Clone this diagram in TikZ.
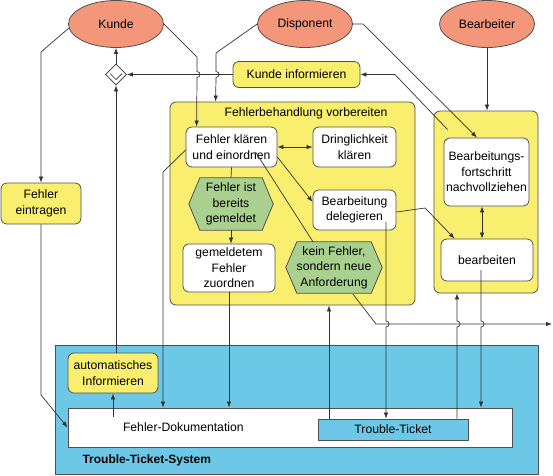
\documentclass[tikz,border=0pt]{standalone}
\usepackage{fontspec}
\setmainfont{Liberation Sans}
\usetikzlibrary{shapes.geometric,arrows.meta,calc}
\pgfdeclarelayer{bg}\pgfdeclarelayer{mid}\pgfsetlayers{bg,mid,main}
\definecolor{salmon}{HTML}{F4967A}
\definecolor{yel}{HTML}{FAEE6E}
\definecolor{grn}{HTML}{A9D08E}
\definecolor{blu}{HTML}{6CC8E6}
\definecolor{edgec}{HTML}{505050}
\definecolor{linec}{HTML}{333333}
\begin{document}
\begin{tikzpicture}[x=1pt,y=-1pt,font=\fontsize{12.2}{15.5}\selectfont,
 actor/.style={ellipse,draw=edgec,fill=salmon,line width=0.8pt,minimum width=95,minimum height=47,inner sep=0},
 ybox/.style={rectangle,rounded corners=6pt,draw=edgec,fill=yel,line width=0.8pt,align=center,inner sep=0},
 wbox/.style={rectangle,rounded corners=6pt,draw=edgec,fill=white,line width=0.8pt,align=center,inner sep=0},
 cont/.style={rectangle,rounded corners=6pt,draw=edgec,fill=yel,line width=0.8pt,inner sep=0},
 hexb/.style={inner sep=0,align=center},
 hexfill/.style={draw=edgec,fill=grn,line width=0.8pt},
 conn/.style={draw=linec,line width=0.7pt},
 arr/.style={conn,-{Latex[length=6pt,width=4.5pt]}},
 darr/.style={conn,{Latex[length=6pt,width=4.5pt]}-{Latex[length=6pt,width=4.5pt]}},
]
\useasboundingbox (0,0) rectangle (553,475);

% containers
\begin{pgfonlayer}{bg}
\node[cont,minimum width=245,minimum height=203] (prep) at (292.5,203.5) {};
\node[cont,minimum width=104,minimum height=182] (rc) at (486,202) {};
\node[rectangle,draw=edgec,fill=blu,line width=0.8pt,minimum width=483,minimum height=129,inner sep=0] (tts) at (296.5,409.5) {};
\end{pgfonlayer}
\node (prept) at (306,113) {Fehlerbehandlung vorbereiten};
\node[anchor=west,font=\fontsize{12}{15}\selectfont\bfseries] (ttsl) at (79,460) {Trouble-Ticket-System};

% actors
\node[actor] (kunde) at (116,24) {Kunde};
\node[actor] (disp) at (305,24) {Disponent};
\node[actor] (bearb) at (487,24) {Bearbeiter};

% decision diamond
\node[diamond,draw=linec,fill=white,line width=0.8pt,minimum size=21,inner sep=0] (dia) at (116,74.5) {};
\draw[linec,line width=0.7pt] ($(dia.center)+(-6,-1)$) -- ($(dia.center)+(0,5)$) -- ($(dia.center)+(6,-1)$);

% boxes
\node[ybox,minimum width=127,minimum height=26] (kinfo) at (296.5,74.5) {Kunde informieren};
\node[ybox,minimum width=80,minimum height=41] (feintr) at (41,203.5) {Fehler\\eintragen};
\node[wbox,minimum width=91,minimum height=40] (fk) at (231.5,147) {Fehler klären\\und einordnen};
\node[wbox,minimum width=83,minimum height=40] (dr) at (354.5,147) {Dringlichkeit\\klären};
\node[wbox,minimum width=83,minimum height=40] (bd) at (354.5,210) {Bearbeitung\\delegieren};
\node[hexb,minimum width=84,minimum height=52] (hx1) at (231,204) {Fehler ist\\bereits\\gemeldet};
\node[wbox,minimum width=92,minimum height=48] (gz) at (229,268) {gemeldetem\\Fehler\\zuordnen};
\node[hexb,minimum width=96,minimum height=51] (hx2) at (334,267.5) {kein Fehler,\\sondern neue\\Anforderung};
\node[wbox,minimum width=85,minimum height=68] (bf) at (486.5,172) {Bearbeitungs-\\fortschritt\\nachvollziehen};
\node[wbox,minimum width=92,minimum height=42] (be) at (487,260) {bearbeiten};
\node[rectangle,draw=edgec,fill=white,line width=0.8pt,minimum width=444,minimum height=39,inner xsep=55pt,inner ysep=0,text width=334pt,align=left] (fd) at (290,427.5) {Fehler-Dokumentation};
\node[rectangle,draw=edgec,fill=blu,line width=0.8pt,minimum width=150,minimum height=21,inner sep=0] (tt) at (393,429.5) {Trouble-Ticket};
\node[ybox,minimum width=90,minimum height=40] (ai) at (113,373) {automatisches\\Informieren};

\begin{pgfonlayer}{mid}
\foreach \h in {hx1,hx2}{
\draw[hexfill] (\h.west) -- ([xshift=11]\h.north west) -- ([xshift=-11]\h.north east) -- (\h.east) -- ([xshift=-11]\h.south east) -- ([xshift=11]\h.south west) -- cycle;
}
\end{pgfonlayer}

% connectors
\draw[arr] (kunde.185) -- (41,52) -- (feintr.north);
\draw[arr] (feintr.south) -- (41,395) -- (fd.west);
\draw[arr] (kunde.east) -- (197,57) -- (197,71.5) .. controls (201,71.5) and (201,77.5) .. (197,77.5) -- ([xshift=11]fk.north west);
\draw[arr] (disp.west) -- (216,53) -- (216,71.5) .. controls (220,71.5) and (220,77.5) .. (216,77.5) -- ([xshift=46]prep.north west);
\draw[arr] (kinfo.west) -- (dia.east);
\draw[arr] (dia.north) -- (kunde.south);
\draw[arr] (dia.south |- ai.north) -- (dia.south);
\coordinate (s8) at ($(ai.south |- fd.north)+(0,9)$);
\draw[arr] (s8) -- (ai.south);
\coordinate (b9) at (163,172);
\draw[arr] ([yshift=-3]fk.west) -- (b9) -- (b9 |- fd.north);
\draw[darr] (fk.east) -- (dr.west);
\draw[arr] ([yshift=-10]fk.east) -- ([yshift=8]bd.west);
\draw[conn] (fk.south) -- (hx1.north);
\draw[arr] (hx1.south) -- (hx1.south |- gz.north);
\draw[conn] ($(fk.center)+(24,5)$) -- ([xshift=-21]hx2.north);
\draw[arr] (gz.south) -- (gz.south |- fd.north);
\coordinate (s15) at ($(bd.center)+(31.5,12)$);
\draw[arr] (s15) -- (386,321) .. controls (390,321) and (390,327) .. (386,327) -- (s15 |- tt.north);
\draw[arr] ([yshift=-2]bd.east) -- (425,208) -- ([xshift=14]be.north west);
\coordinate (s17) at ($(bf.south)+(-4.5,0)$);
\draw[darr] (s17) -- (s17 |- be.north);
\draw[arr] (bearb.south) -- (bearb.south |- rc.north);
\draw[arr] (disp.east) -- (363,24) -- ([xshift=-9.5]bf.north);
\draw[arr] ($(rc.north west)+(14,19)$) -- (395,74.5) -- (kinfo.east);
\coordinate (outR) at (552,324);
\draw[arr] ($(hx2.south)+(19,1)$) -- (376,324) -- (outR);
\coordinate (s22) at ($(tt.north)+(-64,0)$);
\draw[arr] (s22) -- (s22 |- prep.south);
\coordinate (s23) at ($(tt.north)+(64,0)$);
\draw[arr] (s23) -- (457,327) .. controls (461,327) and (461,321) .. (457,321) -- (s23 |- rc.south);
\coordinate (s24) at ($(be.center)+(-6,10)$);
\draw[arr] (s24) -- (481,321) .. controls (485,321) and (485,327) .. (481,327) -- (s24 |- fd.north);
\end{tikzpicture}
\end{document}
